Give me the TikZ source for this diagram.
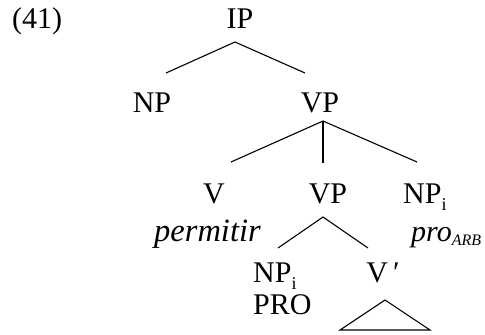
\documentclass[tikz,border=0pt]{standalone}
\usepackage{fontspec}
\setmainfont{Liberation Serif}
\newcommand\mysubi{\raisebox{-7bp}{\fontsize{18bp}{18bp}\selectfont i}}
\newcommand\myarb{\raisebox{-4bp}{\fontsize{16bp}{16bp}\selectfont\itshape ARB}}
\begin{document}
\begin{tikzpicture}[x=1bp,y=-1bp,
  lbl/.style={inner sep=0pt, anchor=base, font=\fontsize{30bp}{36bp}\selectfont},
  lblw/.style={lbl, anchor=base west},
  branch/.style={line width=1.1bp}]
\useasboundingbox (0,0) rectangle (485,334);
% labels
\node[lblw] (ex) at (12,28) {(41)};
\node[lbl] (ip) at (240,28) {IP};
\node[lbl] (np) at (152,112) {NP};
\node[lbl] (vp) at (320,112) {VP};
\node[lbl] (v) at (214,203) {V};
\node[lbl] (vp2) at (328,203) {VP};
\node[lblw] (npi) at (403,203) {NP\mysubi};
\node[lblw, font=\fontsize{32.5bp}{36bp}\selectfont] (perm) at (154,241) {\itshape permitir};
\node[lblw] (pro) at (411,241) {\itshape pro\myarb};
\node[lblw] (npi2) at (253,282) {NP\mysubi};
\node[lblw] (pro2) at (253,314) {PRO};
\node[lbl] (vbar) at (383,282) {V\,′};
% branch points
\coordinate (a1) at (235,42);
\coordinate (a1l) at (166,73);
\coordinate (a1r) at (305,73);
\coordinate (a2) at (323,121);
\coordinate (a2l) at (231,162);
\coordinate (a2m) at (323,163);
\coordinate (a2r) at (417,162);
\coordinate (a3) at (323,217);
\coordinate (a3l) at (278,248);
\coordinate (a3r) at (368,248);
\coordinate (t1) at (385,300);
\coordinate (t1l) at (340,330);
\coordinate (t1r) at (430,330);
% branches
\draw[branch] (a1l) -- (a1) -- (a1r);
\draw[branch] (a2l) -- (a2) -- (a2r);
\draw[branch] (a2) -- (a2m);
\draw[branch] (a3l) -- (a3) -- (a3r);
\draw[branch] (t1l) -- (t1) -- (t1r) -- cycle;
\end{tikzpicture}
\end{document}
